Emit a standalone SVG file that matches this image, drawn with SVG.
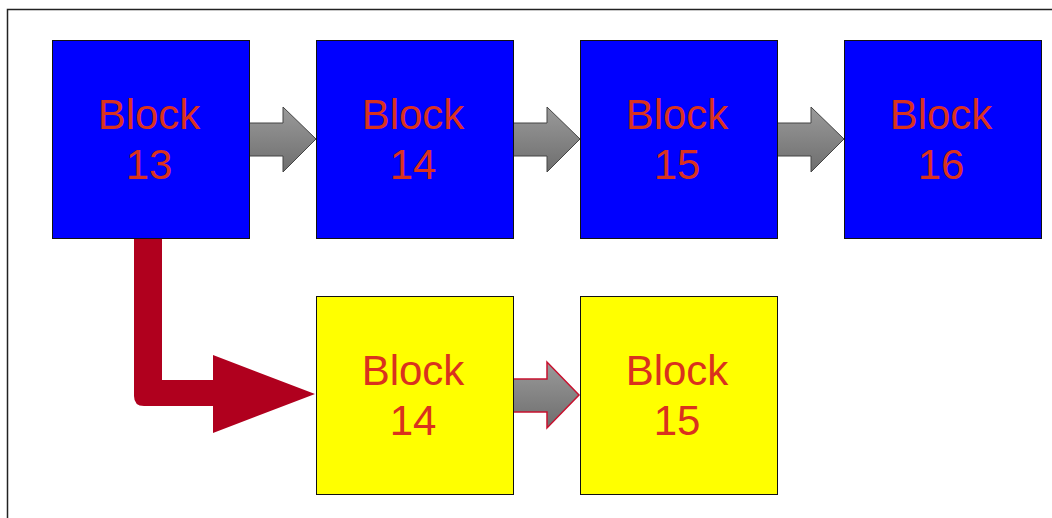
<svg xmlns="http://www.w3.org/2000/svg" width="1052" height="518" viewBox="0 0 1052 518">
  <style>
    .blue { fill: #0000FF; stroke: #111; stroke-width: 1; }
    .yellow { fill: #FFFF00; stroke: #111; stroke-width: 1; }
    .label { font-family: "Liberation Sans", Arial, sans-serif; font-size: 42px; fill: #D9321E; text-anchor: middle; }
    .step { fill: url(#grey); stroke: #444; stroke-width: 1; }
    .step-red { fill: url(#grey); stroke: #C8102E; stroke-width: 1.5; }
  </style>
  <defs>
    <linearGradient id="grey" x1="0" y1="0" x2="0" y2="1">
      <stop offset="0" stop-color="#9a9a9a"/>
      <stop offset="1" stop-color="#6e6e6e"/>
    </linearGradient>
  </defs>

  <rect x="0" y="0" width="1052" height="518" fill="#fff"/>
  <!-- outer frame -->
  <rect x="7.5" y="9.5" width="1060" height="530" fill="none" stroke="#222" stroke-width="1.5"/>

  <g id="connectors">
    <path class="step" d="M249,123 H283 V107 L316,139 L283,172 V156 H249 Z"/>
    <path class="step" d="M513,123 H547 V107 L580,139 L547,172 V156 H513 Z"/>
    <path class="step" d="M777,123 H811 V107 L844,139 L811,172 V156 H777 Z"/>
    <path class="step-red" d="M513,379 H547 V362 L579,395 L547,428 V412 H513 Z"/>
    <!-- fork arrow from block 13 down to the second chain -->
    <path fill="#B0001E" d="M134,238 H162 V380 H213 V355 L315,394 L213,433 V406 H144 Q134,406 134,396 Z"/>
  </g>

  <g id="block13">
    <rect class="blue" x="52.5" y="40.5" width="197" height="198"/>
    <text class="label" x="149" y="129">Block</text>
    <text class="label" x="149" y="179">13</text>
  </g>
  <g id="block14">
    <rect class="blue" x="316.5" y="40.5" width="197" height="198"/>
    <text class="label" x="413" y="129">Block</text>
    <text class="label" x="413" y="179">14</text>
  </g>
  <g id="block15">
    <rect class="blue" x="580.5" y="40.5" width="197" height="198"/>
    <text class="label" x="677" y="129">Block</text>
    <text class="label" x="677" y="179">15</text>
  </g>
  <g id="block16">
    <rect class="blue" x="844.5" y="40.5" width="197" height="198"/>
    <text class="label" x="941" y="129">Block</text>
    <text class="label" x="941" y="179">16</text>
  </g>
  <g id="block14b">
    <rect class="yellow" x="316.5" y="296.5" width="197" height="198"/>
    <text class="label" x="413" y="385">Block</text>
    <text class="label" x="413" y="435">14</text>
  </g>
  <g id="block15b">
    <rect class="yellow" x="580.5" y="296.5" width="197" height="198"/>
    <text class="label" x="677" y="385">Block</text>
    <text class="label" x="677" y="435">15</text>
  </g>
</svg>
